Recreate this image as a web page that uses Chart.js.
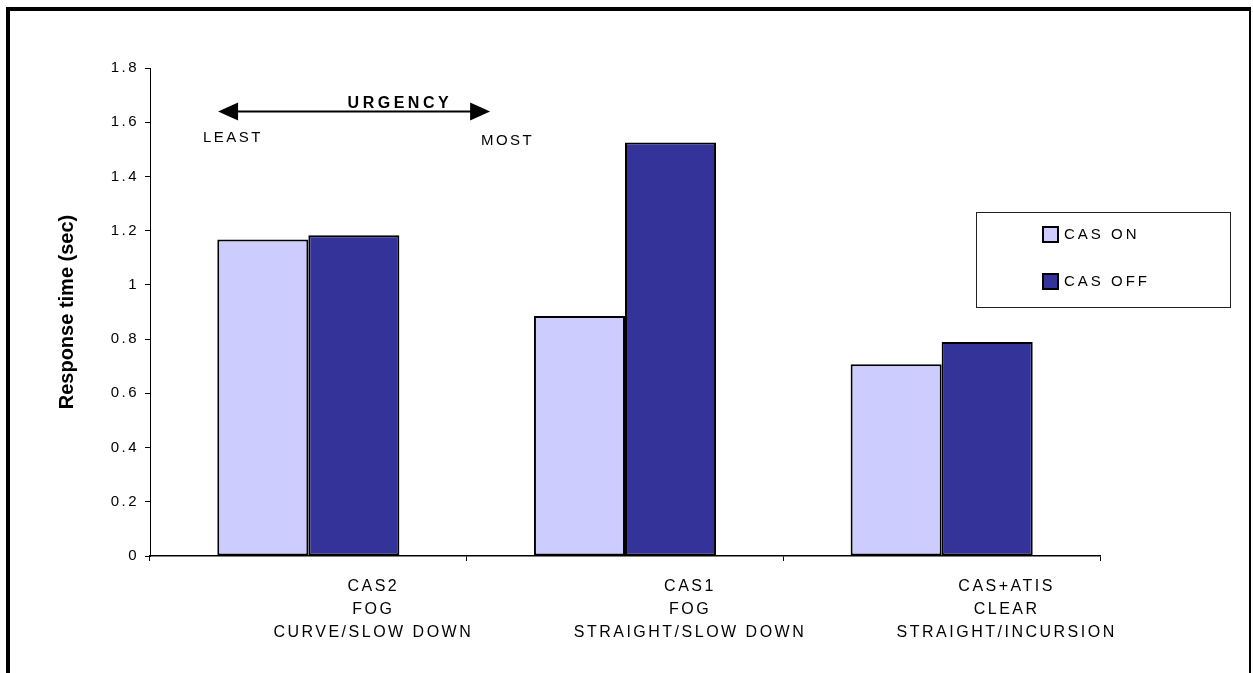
<!DOCTYPE html>
<html>
<head>
<meta charset="utf-8">
<script src="https://cdn.jsdelivr.net/npm/chart.js@4.4.0/dist/chart.umd.min.js"></script>
<style>
  html, body { margin: 0; padding: 0; background: #fff; overflow: hidden; }
  #wrap { position: relative; width: 1253px; height: 673px; }
  #chart { position: absolute; left: 0; top: 0; }
  /* picture frame: heavy top/left, light right, open at the bottom */
  #frame {
    position: absolute; left: 6px; top: 7px; width: 1239px; height: 720px;
    border-top: 4px solid #000; border-left: 4px solid #000; border-right: 2px solid #000;
    pointer-events: none;
  }
</style>
</head>
<body>
<div id="wrap">
  <canvas id="chart" width="1253" height="673"></canvas>
  <div id="frame"></div>
</div>
<script>
// Response time per scenario, CAS on vs off
const categories = [
    ['CAS2', 'FOG', 'CURVE/SLOW DOWN'],
    ['CAS1', 'FOG', 'STRAIGHT/SLOW DOWN'],
    ['CAS+ATIS', 'CLEAR', 'STRAIGHT/INCURSION']
];
const seriesNames = ['CAS ON', 'CAS OFF'];
const casOn = [1.167, 0.885, 0.707];
const casOff = [1.183, 1.525, 0.789];
const yTicks = [0, 0.2, 0.4, 0.6, 0.8, 1, 1.2, 1.4, 1.6, 1.8];
const yTickLabels = ['0', '0.2', '0.4', '0.6', '0.8', '1', '1.2', '1.4', '1.6', '1.8'];

const FONT = "'Liberation Sans', Arial, sans-serif";
Chart.defaults.font.family = FONT;
Chart.defaults.color = '#000';

// the urgency arrow sits in data units (x in category index, y in seconds)
const urgency = {
    y: 1.64, from: -0.285, to: 0.574,
    title: 'URGENCY', titleX: 0.289, titleY: 1.667,
    least: 'LEAST', leastX: -0.333, leastY: 1.542,
    most: 'MOST', mostX: 0.545, mostY: 1.531
};

// wide letter spacing on all text except the axis title
const spacingPlugin = {
    id: 'spacing',
    afterUpdate(chart) {
        const y = chart.scales.y;
        if (y && !y._plainTitle) {
            const drawTitle = y.drawTitle;
            y.drawTitle = function () {
                const prev = this.ctx.letterSpacing;
                this.ctx.letterSpacing = '0px';
                drawTitle.call(this);
                this.ctx.letterSpacing = prev;
            };
            y._plainTitle = true;
        }
    },
    beforeDraw(chart) {
        chart.ctx.letterSpacing = '2.5px';
    }
};

const urgencyPlugin = {
    id: 'urgency',
    afterDraw(chart) {
        const {ctx, scales: {x, y}} = chart;
        const ay = y.getPixelForValue(urgency.y);
        const x1 = x.getPixelForValue(urgency.from);
        const x2 = x.getPixelForValue(urgency.to);
        const head = 20, half = 9;
        ctx.save();
        ctx.strokeStyle = '#000';
        ctx.fillStyle = '#000';
        ctx.lineWidth = 2;
        ctx.beginPath();
        ctx.moveTo(x1 + head - 2, ay);
        ctx.lineTo(x2 - head + 2, ay);
        ctx.stroke();
        ctx.beginPath();
        ctx.moveTo(x1, ay);
        ctx.lineTo(x1 + head, ay - half);
        ctx.lineTo(x1 + head, ay + half);
        ctx.closePath();
        ctx.fill();
        ctx.beginPath();
        ctx.moveTo(x2, ay);
        ctx.lineTo(x2 - head, ay - half);
        ctx.lineTo(x2 - head, ay + half);
        ctx.closePath();
        ctx.fill();

        ctx.textBaseline = 'middle';
        ctx.letterSpacing = '3.5px';
        ctx.font = 'bold 16px ' + FONT;
        ctx.textAlign = 'center';
        ctx.fillText(urgency.title, x.getPixelForValue(urgency.titleX), y.getPixelForValue(urgency.titleY));
        ctx.letterSpacing = '2.5px';
        ctx.font = '15px ' + FONT;
        ctx.textAlign = 'left';
        ctx.fillText(urgency.least, x.getPixelForValue(urgency.leastX), y.getPixelForValue(urgency.leastY));
        ctx.fillText(urgency.most, x.getPixelForValue(urgency.mostX), y.getPixelForValue(urgency.mostY));
        ctx.restore();
    }
};

// boxed legend floating over the right side of the plot
const boxLegend = {
    id: 'boxLegend',
    afterDraw(chart) {
        const ctx = chart.ctx;
        const box = {left: 976, top: 212, width: 254, height: 95};
        ctx.save();
        ctx.fillStyle = '#fff';
        ctx.fillRect(box.left, box.top, box.width, box.height);
        ctx.strokeStyle = '#222';
        ctx.lineWidth = 1;
        ctx.strokeRect(box.left + 0.5, box.top + 0.5, box.width, box.height);
        ctx.font = '15px ' + FONT;
        ctx.letterSpacing = '3px';
        ctx.textBaseline = 'middle';
        chart.data.datasets.forEach((ds, i) => {
            const cy = box.top + 22 + i * 47;
            ctx.fillStyle = ds.backgroundColor;
            ctx.fillRect(box.left + 67, cy - 7, 15, 15);
            ctx.strokeStyle = '#000';
            ctx.lineWidth = 2;
            ctx.strokeRect(box.left + 67, cy - 7, 15, 15);
            ctx.fillStyle = '#000';
            ctx.fillText(ds.label, box.left + 88, cy + 1);
        });
        ctx.restore();
    }
};

const ctx = document.getElementById('chart').getContext('2d');
const chart = new Chart(ctx, {
    type: 'bar',
    data: {
        labels: categories,
        datasets: [{
            label: seriesNames[0],
            data: casOn,
            backgroundColor: '#CCCCFF',
            borderColor: '#000',
            borderWidth: 2,
            borderSkipped: false,
            categoryPercentage: 0.575,
            barPercentage: 1
        }, {
            label: seriesNames[1],
            data: casOff,
            backgroundColor: '#333399',
            borderColor: '#000',
            borderWidth: 2,
            borderSkipped: false,
            categoryPercentage: 0.575,
            barPercentage: 1
        }]
    },
    options: {
        responsive: false,
        animation: false,
        devicePixelRatio: 1,
        layout: {
            padding: {left: 0, top: 68, right: 153, bottom: 0}
        },
        plugins: {
            legend: {display: false},
            tooltip: {enabled: false}
        },
        scales: {
            x: {
                grid: {drawOnChartArea: false, offset: true, tickLength: 5, color: '#000'},
                border: {color: '#000', width: 1.5},
                ticks: {
                    color: '#000',
                    font: {size: 16, lineHeight: 23 / 16},
                    labelOffset: 65,
                    padding: 14,
                    maxRotation: 0,
                    autoSkip: false
                },
                afterFit: s => { s.height = 117; }
            },
            y: {
                min: 0,
                max: 1.8,
                grid: {drawOnChartArea: false, tickLength: 5, color: '#000'},
                border: {color: '#000', width: 1},
                afterBuildTicks: s => { s.ticks = yTicks.map(v => ({value: v})); },
                ticks: {
                    color: '#000',
                    font: {size: 15},
                    padding: 6,
                    callback: (v, i) => yTickLabels[i]
                },
                title: {
                    display: true,
                    text: 'Response time (sec)',
                    color: '#000',
                    font: {size: 20, weight: 'bold'},
                    padding: {top: 55, bottom: 0}
                },
                afterFit: s => { s.width = 150; }
            }
        }
    },
    plugins: [spacingPlugin, urgencyPlugin, boxLegend]
});
</script>
</body>
</html>
